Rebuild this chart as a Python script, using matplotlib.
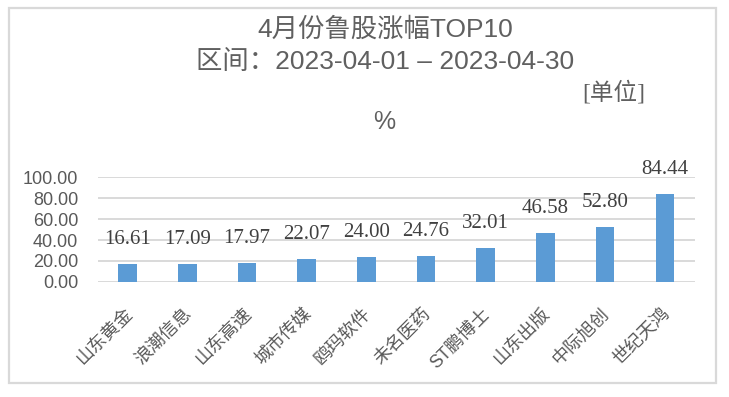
import numpy as np
import matplotlib
matplotlib.use("Agg")
import matplotlib.pyplot as plt
from matplotlib.patches import Rectangle
from matplotlib.transforms import ScaledTranslation

# 数据
stocks = ["山东黄金", "浪潮信息", "山东高速", "城市传媒", "鸥玛软件",
          "未名医药", "ST鹏博士", "山东出版", "中际旭创", "世纪天鸿"]
gains = [16.61, 17.09, 17.97, 22.07, 24.00, 24.76, 32.01, 46.58, 52.80, 84.44]
y_ticks = [0, 20, 40, 60, 80, 100]

title1 = "4月份鲁股涨幅TOP10"
title2 = "区间：2023-04-01 – 2023-04-30"

SANS = ["Liberation Sans", "Noto Sans CJK SC"]
SERIF = ["Liberation Serif", "Noto Sans CJK SC"]
plt.rcParams["font.family"] = SANS

W, H = 729, 397
fig = plt.figure(figsize=(W / 100, H / 100), dpi=100)

# 外框
fig.patches.append(Rectangle((9 / W, 1 - 383 / H), (716 - 9) / W, (383 - 8) / H,
                             transform=fig.transFigure, fill=False,
                             edgecolor="#d9d9d9", linewidth=1.6))

# 标题
fig.text(385 / W, 1 - 29 / H, title1, ha="center", va="center",
         fontsize=19, color="#606060")
fig.text(385 / W, 1 - 62 / H, title2, ha="center", va="center",
         fontsize=19, color="#606060")
fig.text(614 / W, 1 - 93 / H, "[单位]", ha="center", va="center",
         fontsize=17, color="#606060", family=SERIF)
fig.text(384 / W, 1 - 122 / H, "%", ha="center", va="center",
         fontsize=18, color="#606060")

ax = fig.add_axes([97.7 / W, (H - 281.7) / H, 597 / W, 104.2 / H])
x = np.arange(len(stocks))
bars = ax.bar(x, gains, width=0.31, color="#5b9bd5", zorder=3)

ax.set_xlim(-0.5, len(stocks) - 0.5)
ax.set_ylim(0, 100)
ax.set_yticks(y_ticks)
ax.set_yticklabels([f"{v:.2f}" for v in y_ticks], fontsize=13, color="#595959")
ax.grid(axis="y", color="#d9d9d9", linewidth=1.4, zorder=0)
for s in ax.spines.values():
    s.set_visible(False)
ax.tick_params(axis="both", length=0)
ax.tick_params(axis="y", pad=14)
ax.tick_params(axis="x", pad=17)

ax.set_xticks(x)
ax.set_xticklabels(stocks, rotation=45, ha="right", va="top",
                   fontsize=13, color="#595959")
shift = ScaledTranslation(8 / 100, 0, fig.dpi_scale_trans)
for lbl in ax.get_xticklabels():
    lbl.set_transform(lbl.get_transform() + shift)

# 数值标签
for xi, v in zip(x, gains):
    ax.annotate(f"{v:.2f}", (xi, v), xytext=(0, 17.6), textcoords="offset points",
                ha="center", va="center", fontsize=15, color="#404040",
                family=SERIF, annotation_clip=False)

fig.savefig("out.png", dpi=100)
